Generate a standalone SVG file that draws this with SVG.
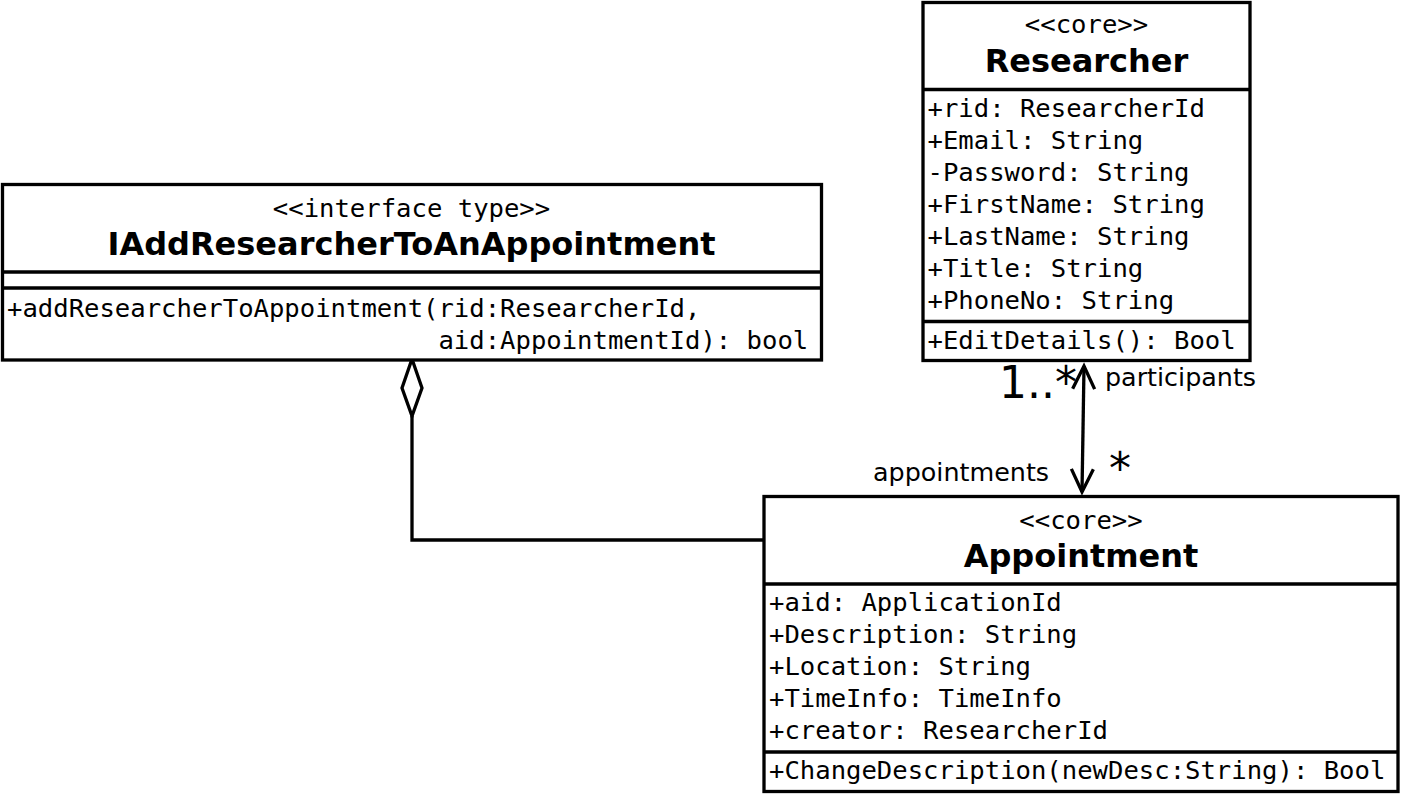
<svg xmlns="http://www.w3.org/2000/svg" width="1402" height="794" viewBox="0 0 1402 794">
<style>
.box{fill:#fff;stroke:#000;stroke-width:3.3}
.ln{stroke:#000;stroke-width:3.3;fill:none}
.mono{font-family:"DejaVu Sans Mono","Liberation Mono",monospace;font-size:25.6px;fill:#000}
.st{font-family:"DejaVu Sans Mono","Liberation Mono",monospace;font-size:25.6px;fill:#000;text-anchor:middle}
.title{font-family:"DejaVu Sans","Liberation Sans",sans-serif;font-size:32px;font-weight:bold;fill:#000;text-anchor:middle}
.lbl{font-family:"DejaVu Sans","Liberation Sans",sans-serif;font-size:25.4px;fill:#000}
.mult{font-family:"DejaVu Sans","Liberation Sans",sans-serif;font-size:44px;fill:#000}
</style>
<defs>
<marker id="open" markerUnits="userSpaceOnUse" markerWidth="30" markerHeight="30" refX="24" refY="12" orient="auto" overflow="visible">
<polyline points="1,1 24,12 1,23" fill="none" stroke="#000" stroke-width="3.3"/>
</marker>
</defs>
<rect width="1402" height="794" fill="#fff"/>
<g id="connectors">
<polygon class="ln" points="412,359 402,388 412,416 422,388" fill="#fff"/>
<polyline class="ln" points="412,416 412,540 764,540"/>
<line class="ln" x1="1083" y1="430" x2="1084" y2="366" marker-end="url(#open)"/>
<line class="ln" x1="1083" y1="430" x2="1082" y2="492" marker-end="url(#open)"/>
<text class="mult" x="999" y="398">1..*</text>
<text class="lbl" x="1105" y="386">participants</text>
<text class="lbl" x="873" y="481">appointments</text>
<text class="mult" x="1109" y="484">*</text>
</g>
<g id="IAddResearcherToAnAppointment">
<rect class="box" x="2.5" y="184.5" width="819" height="175.5"/>
<line class="ln" x1="2.5" y1="272" x2="821.5" y2="272"/>
<line class="ln" x1="2.5" y1="288" x2="821.5" y2="288"/>
<text class="st" x="411.5" y="217">&lt;&lt;interface type&gt;&gt;</text>
<text class="title" x="411.5" y="255">IAddResearcherToAnAppointment</text>
<text class="mono" x="7" y="316.5" xml:space="preserve">+addResearcherToAppointment(rid:ResearcherId,</text>
<text class="mono" x="7" y="348.5" xml:space="preserve">                            aid:AppointmentId): bool</text>
</g>
<g id="Researcher">
<rect class="box" x="923" y="2.5" width="327" height="358"/>
<line class="ln" x1="923" y1="89.5" x2="1250" y2="89.5"/>
<line class="ln" x1="923" y1="321.5" x2="1250" y2="321.5"/>
<text class="st" x="1086.5" y="33">&lt;&lt;core&gt;&gt;</text>
<text class="title" x="1086.5" y="72">Researcher</text>
<text class="mono" x="927.5" y="117">+rid: ResearcherId</text>
<text class="mono" x="927.5" y="149">+Email: String</text>
<text class="mono" x="927.5" y="181">-Password: String</text>
<text class="mono" x="927.5" y="213">+FirstName: String</text>
<text class="mono" x="927.5" y="245">+LastName: String</text>
<text class="mono" x="927.5" y="277">+Title: String</text>
<text class="mono" x="927.5" y="309">+PhoneNo: String</text>
<text class="mono" x="927.5" y="349">+EditDetails(): Bool</text>
</g>
<g id="Appointment">
<rect class="box" x="764" y="496.5" width="634" height="295"/>
<line class="ln" x1="764" y1="584" x2="1398" y2="584"/>
<line class="ln" x1="764" y1="752" x2="1398" y2="752"/>
<text class="st" x="1081" y="529">&lt;&lt;core&gt;&gt;</text>
<text class="title" x="1081" y="567">Appointment</text>
<text class="mono" x="769" y="611">+aid: ApplicationId</text>
<text class="mono" x="769" y="643">+Description: String</text>
<text class="mono" x="769" y="675">+Location: String</text>
<text class="mono" x="769" y="707">+TimeInfo: TimeInfo</text>
<text class="mono" x="769" y="739">+creator: ResearcherId</text>
<text class="mono" x="769" y="779">+ChangeDescription(newDesc:String): Bool</text>
</g>
</svg>
